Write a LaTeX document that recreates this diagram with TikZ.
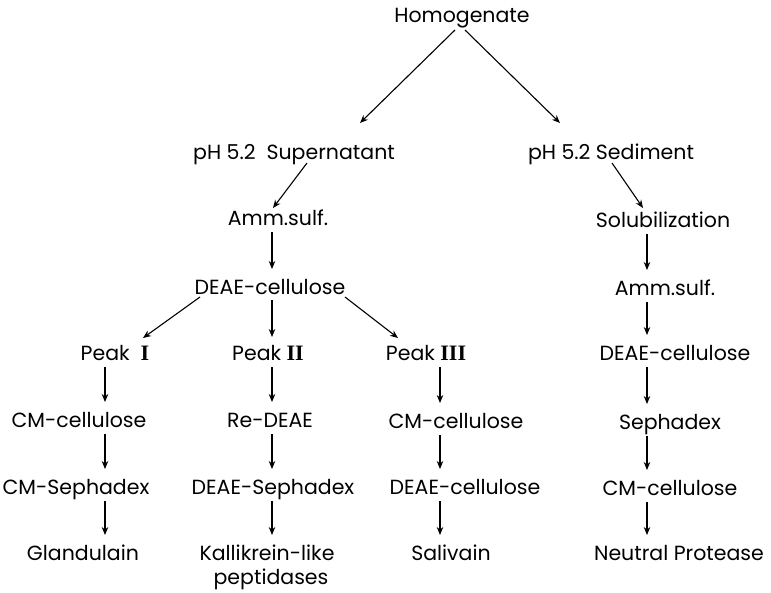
\documentclass[tikz,border=0pt]{standalone}
\usepackage{fontspec}
\setmainfont{Poppins}
\newfontfamily\numfont{Liberation Serif}
\usetikzlibrary{calc,arrows.meta}
\newcommand\rnum[1]{{\numfont\bfseries\fontsize{22}{24}\selectfont #1}}
\tikzset{
  lbl/.style={inner sep=0pt, anchor=base, font=\fontsize{20.5}{23}\selectfont},
  arr/.style={line width=1.1pt, -{Stealth[length=8pt,width=6.5pt]}}
}
\newcommand\vlink[3]{\draw[arr] ($(#1 |- #2.base)+(0,7)$) -- ($(#1 |- #3.base)+(0,-25)$);}
\begin{document}
\begin{tikzpicture}[x=1pt,y=-1pt]
\useasboundingbox (0,0) rectangle (771,592);
% nodes
\node[lbl] (homog) at (462,22) {Homogenate};
\node[lbl] (sup) at (294,159) {pH 5.2\ \ Supernatant};
\node[lbl] (sed) at (611,159) {pH 5.2\ Sediment};
\node[lbl] (amm1) at (278,225) {Amm.sulf.};
\node[lbl] (deae1) at (270,294) {DEAE-cellulose};
\node[lbl] (pk1) at (115,360) {Peak\ \ \rnum{I}};
\node[lbl] (pk2) at (268,360) {Peak \rnum{II}};
\node[lbl] (pk3) at (426,360) {Peak \rnum{III}};
\node[lbl] (cm1) at (79,427) {CM-cellulose};
\node[lbl] (re) at (270,427) {Re-DEAE};
\node[lbl] (cm3) at (456,428) {CM-cellulose};
\node[lbl] (cms1) at (76,494) {CM-Sephadex};
\node[lbl] (ds) at (273,494) {DEAE-Sephadex};
\node[lbl] (de3) at (465,494) {DEAE-cellulose};
\node[lbl] (gland) at (83,560) {Glandulain};
\node[lbl] (kal) at (267,560) {Kallikrein-like};
\node[lbl] (pep) at (271,584) {peptidases};
\node[lbl] (sal) at (451,560) {Salivain};
\node[lbl] (solub) at (663,227) {Solubilization};
\node[lbl] (amm2) at (665,295) {Amm.sulf.};
\node[lbl] (deae2) at (675,360) {DEAE-cellulose};
\node[lbl] (seph) at (670,429) {Sephadex};
\node[lbl] (cm4) at (670,495) {CM-cellulose};
\node[lbl] (neut) at (679,560) {Neutral Protease};
% column coordinates
\coordinate (cA) at (105,0);
\coordinate (cB) at (272,0);
\coordinate (cC) at (440,0);
\coordinate (cD) at (647,0);
% diagonal connectors
\draw[arr] ($(homog.base)+(-7,8)$) -- ($(sup.base)+(66,-36)$);
\draw[arr] ($(homog.base)+(3,8)$) -- ($(sed.base)+(-51,-36)$);
\draw[arr] ($(sup.base)+(13,4)$) -- ($(amm1.base)+(-5,-17)$);
\draw[arr] ($(sed.base)+(1,4)$) -- ($(solub.base)+(-20,-19)$);
\draw[arr] ($(deae1.base)+(-70,3)$) -- ($(pk1.base)+(28,-22)$);
\draw[arr] ($(deae1.base)+(2,6)$) -- ($(pk2.base)+(4,-23)$);
\draw[arr] ($(deae1.base)+(75,3)$) -- ($(pk3.base)+(-28,-22)$);
% vertical connectors
\vlink{cB}{amm1}{deae1}
\vlink{cA}{pk1}{cm1}
\vlink{cA}{cm1}{cms1}
\vlink{cA}{cms1}{gland}
\vlink{cB}{pk2}{re}
\vlink{cB}{re}{ds}
\vlink{cB}{ds}{kal}
\vlink{cC}{pk3}{cm3}
\vlink{cC}{cm3}{de3}
\vlink{cC}{de3}{sal}
\vlink{cD}{solub}{amm2}
\vlink{cD}{amm2}{deae2}
\vlink{cD}{deae2}{seph}
\vlink{cD}{seph}{cm4}
\vlink{cD}{cm4}{neut}
\end{tikzpicture}
\end{document}
